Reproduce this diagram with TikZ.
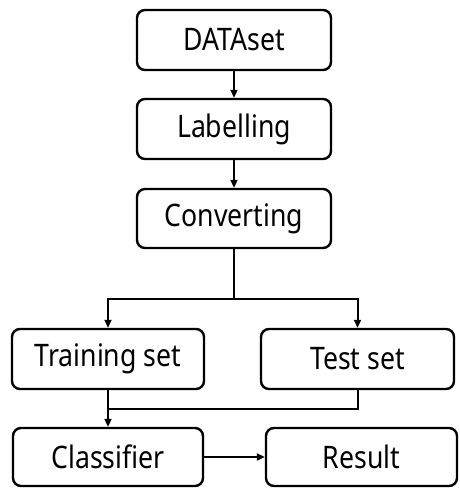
\documentclass[tikz,border=0pt]{standalone}
\usepackage{fontspec}
\setmainfont[FakeStretch=0.86]{Noto Sans}
\usetikzlibrary{arrows.meta,calc}
\begin{document}
\begin{tikzpicture}[x=1pt,y=-1pt,
  box/.style={draw,line width=2.4pt,rounded corners=8pt,align=center,font=\fontsize{31}{34}\selectfont,inner sep=0pt},
  conn/.style={line width=2pt},
  arr/.style={conn,-{Triangle[length=8pt,width=7pt]}}]
\useasboundingbox (0,0) rectangle (459,489);
\node[box,minimum width=194pt,minimum height=60pt] (ds) at (234,40) {DATAset};
\node[box,minimum width=194pt,minimum height=60pt] (lab) at (234,129) {Labelling};
\node[box,minimum width=194pt,minimum height=59pt] (conv) at (234,218.5) {Converting};
\node[box,minimum width=192pt,minimum height=60pt] (train) at (108,359) {Training set};
\node[box,minimum width=193pt,minimum height=60pt] (test) at (357.5,359) {Test set};
\node[box,minimum width=190pt,minimum height=58pt] (cls) at (108,457) {Classifier};
\node[box,minimum width=191pt,minimum height=58pt] (res) at (361.5,457) {Result};
\coordinate (split) at (234,299);
\coordinate (merge) at (108,409);
\draw[arr] (ds) -- (lab);
\draw[arr] (lab) -- (conv);
\draw[conn] (conv.south) -- (split);
\draw[arr] (split) -| (train.north);
\draw[arr] (split) -| (test.north);
\draw[arr] (train.south) -- (cls.north);
\draw[conn] (test.south) |- (merge);
\draw[arr] (cls.east) -- (res.west);
\end{tikzpicture}
\end{document}
